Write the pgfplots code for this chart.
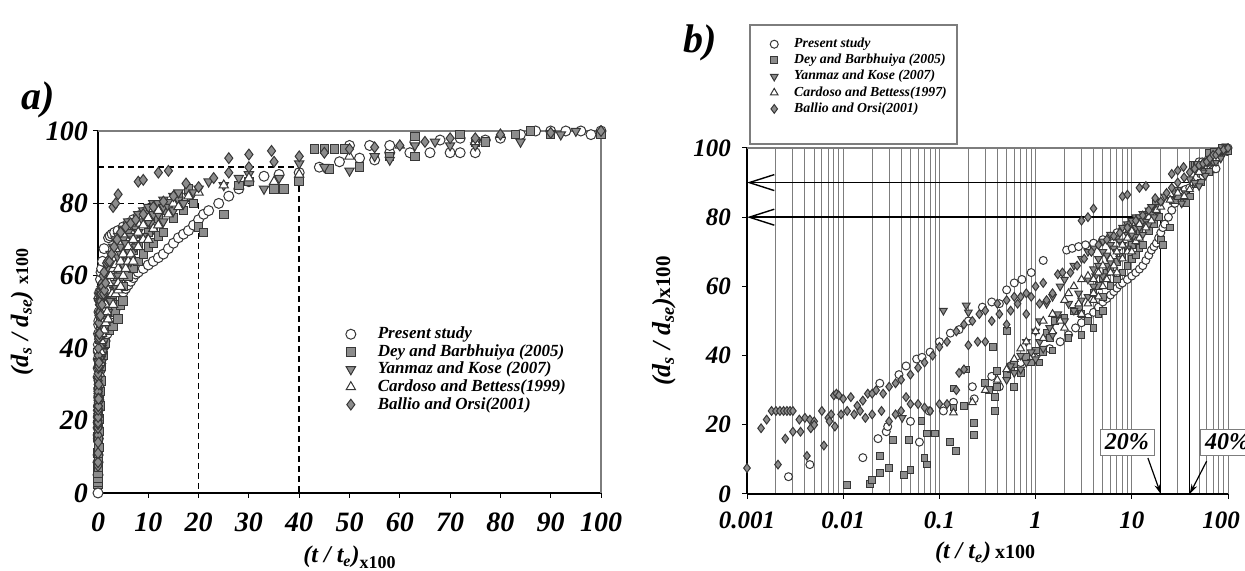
\documentclass[border=0pt]{standalone}
\usepackage{pgfplots}
\pgfplotsset{compat=1.18}
\usepackage{pgfplotstable}
\usepackage{fontspec}
\setmainfont{Liberation Serif}
\usetikzlibrary{arrows.meta}

\definecolor{mk}{RGB}{140,140,140}
\definecolor{edge}{RGB}{55,55,55}
\definecolor{frame}{RGB}{125,125,125}

% x = (t/te)x100, y = (ds/dse)x100
\pgfplotstableread{
x y
0.0027 5
0.0045 8.5
0.016 10.5
0.023 16
0.028 18
0.029 19.5
0.05 21
0.062 15
0.078 24
0.11 24
0.14 26.5
0.22 31
0.23 27.5
0.35 34
0.42 31
0.024 32
0.038 34.5
0.045 37
0.058 39
0.066 39.5
0.08 41
0.1 44
0.13 46.5
0.16 47.5
0.2 50
0.28 54
0.35 55.5
0.42 55
0.5 59
0.6 61
0.72 62
0.9 64
1.2 67.5
2.1 70.5
2.4 71
2.8 71.5
3.3 72
4 72.5
5 73.5
6 74.5
7 75.5
8 76.5
9 77.5
10 78.5
0.55 37
0.7 38
0.9 40
1.1 41
1.4 42
1.8 44
2.2 46
2.6 48
3 49.5
3.5 51
4 52.5
4.5 54
5 55.5
5.5 56.5
6 57.5
6.5 58.5
7 59.5
7.5 60.5
8 61
9 62
10 63
11 64
12 65
13 66
14 67.5
15 69
16 70.5
17 71.5
18 72.5
19 74
20 75.5
21 77
22 78
24 80
26 82
28 84
30 86
33 87.5
36 88
40 88.5
44 90
48 91.5
52 92.5
55 92
58 94
62 94
66 94
70 94
72 94
75 94
50 96
54 96
58 96
63 97
68 97.5
72 98
77 97.5
80 98
84 99
87 100
90 100
93 100
96 100
98 99
100 100
}\present

\pgfplotstableread{
x y
0.011 2.5
0.019 3
0.02 4
0.024 11
0.024 6
0.03 7.5
0.033 15.5
0.043 5.5
0.048 15.5
0.05 7
0.065 21
0.07 10.5
0.075 8.5
0.075 17.5
0.09 17.5
0.13 15
0.15 12.5
0.14 30.5
0.14 25
0.18 25.5
0.19 36
0.23 20.5
0.23 17
0.3 32
0.33 30
0.38 28
0.38 24
0.4 31
0.4 35.5
0.36 42.5
0.5 47
0.5 34.5
0.55 36
0.6 31
0.6 37.5
0.7 35
0.8 39.5
0.9 38
1 41.5
1.1 38
1.2 41
1.3 46.5
1.4 45
1.5 41.5
1.6 50
1.8 50.5
2 51
2.2 45
2.5 53
2.8 54
3 52
3.5 50
4 58
4.5 60
5 62.5
5 57
5.5 64
6 65
7 67
8 68.5
9 70.5
10 72
11 74
12 76
13 78
14 80
16 82
18 84
3 46
4 48
4.5 52
5 53
6 60
7 62
8 64
9 66
10 68
11 69
12 71
13 72
15 76
17 78
19 80
20 73.5
21 72
25 77
28 85
30 86
35 84
37 84
40 86
43 95
45 95
47 95
49 95
46 89.5
52 90
58 93
63 93
63 98.5
72 99
75 97
77 97
83 99
86 100
90 99
100 99
}\dey

\pgfplotstableread{
x y
0.041 22
0.11 53
0.19 54.5
0.2 52.5
0.5 33
0.55 37
0.6 35
0.7 40
0.7 36
0.8 38
0.8 44
0.9 41
1 39
1 47
1.1 50
1.1 44
1.2 42
1.3 55
1.4 48
1.5 46
1.5 57
1.7 52
1.8 60
2 50
2 62
2.2 55
2.5 53
2.5 66
2.8 58
3 56
3 68
3.5 70
3.5 62
3.5 57
4 60
4 71
4 65
4.2 63
4.5 66
4.5 68
5 63
5 73
5 70
5.5 69
5.5 66
6 67
6 75
6 72
6.5 71
6.5 64
7 70
7 74
7.5 73
7.5 68
8 72
8 77
9 75
9 78
9 71
10 75
10 79
11 77
11 80
11 73
12 77
12 80
13 79
13 81
13 75
14 79
15 82
15 78
16 81
16 83
17 80
18 82
19 83
20 84
22 86
25 85
28 87
30 88
33 84
36 87
40 91
45 90
50 89
55 93
58 92
63 96
67 97
70 96
75 96
84 97
92 99
95 100
}\yanmaz

\pgfplotstableread{
x y
0.14 23.5
0.22 26.5
0.3 30
0.4 33
0.5 36
0.6 39
0.7 42
0.8 44
1 47
1.2 50
1.2 45
1.5 52
1.5 47
1.8 50
2 56
2 48
2.2 58
2.5 60
2.8 55
3 62
3 52
3.5 63
3.5 55
4 58
4 56
4 62
4.5 64
4.5 57
5 60
5 66
5.5 62
6 64
6 68
6.5 66
7 70
7 64
8 68
8 72
9 74
9 70
10 70
10 76
11 73
12 78
12 74
14 77
15 80
16 79
18 82
20 83
25 85
30 87
35 86
40 88
50 93
60 96
75 97
80 99
}\cardoso

\pgfplotstableread{
x y
0.001 7.5
0.0014 19
0.0016 21.5
0.0018 24
0.002 24
0.0022 24
0.0024 24
0.0026 24
0.0028 24
0.003 24
0.0035 21.5
0.004 22
0.0045 21.5
0.005 21
0.006 24
0.007 22
0.0075 23
0.008 28.5
0.0085 29
0.009 28.5
0.01 27.5
0.012 28
0.014 25.5
0.016 27
0.018 29
0.02 29
0.022 30
0.026 29
0.03 31
0.035 32
0.04 33
0.05 34.5
0.06 36.5
0.07 38
0.085 40
0.1 42.5
0.12 44
0.15 47
0.18 49
0.22 50
0.26 52
0.3 53
0.4 55
0.5 56
0.6 57
0.7 57
0.8 58
1 60
1.2 61
0.0021 8.5
0.0025 16
0.003 18
0.0036 18
0.0042 11
0.0046 19
0.005 20
0.0063 14
0.0072 21
0.0082 19.5
0.0095 23
0.011 24
0.013 23
0.015 24
0.017 22
0.02 23
0.025 24
0.03 21
0.035 23
0.04 24
0.045 28
0.05 26
0.06 26
0.07 25
0.08 24
0.1 26
0.12 26
0.15 30
0.16 35
0.18 36
0.2 43
0.25 44
0.3 44
0.35 50
0.42 52
0.5 49
0.55 53
0.65 55
0.8 52
0.9 57
1.1 55
1.3 56
1.5 58
1.7 63.5
1.9 64
2.3 64
2.7 66
3.2 68
3.8 70
4.5 72
5.5 73.5
6.5 74.5
7.5 75.5
9 77
11 79
13 80.5
15 82
17.5 85.5
20 84.5
23 87
26 88.5
30 90
35 91.5
40 93
45 94
50 95
55 95.5
60 96
65 97
70 98
75 98
80 99
90 99.5
100 100
3 79
3.5 80
4 82.5
8 86
9 86.5
12 88.5
14 89
26 92.5
30 93.5
34.5 94.5
}\ballio

\pgfplotsset{
  pres/.style={only marks, mark=*, mark size=#1, mark options={fill=white, draw=edge, line width=0.5pt}},
  dey/.style={only marks, mark=square*, mark size=#1, mark options={scale=0.85, fill=mk, draw=edge, line width=0.5pt}},
  yan/.style={only marks, mark=triangle*, mark size=#1, mark options={rotate=180, fill=mk, draw=edge, line width=0.5pt}},
  car/.style={only marks, mark=triangle*, mark size=#1, mark options={fill=white, draw=edge, line width=0.5pt}},
  bal/.style={only marks, mark=diamond*, mark size=#1, mark options={fill=mk, draw=edge, line width=0.5pt}},
}

\begin{document}
\begin{tikzpicture}
\path[use as bounding box] (0,0) rectangle (622.5pt,285.5pt);

\node[font=\fontsize{20}{20}\selectfont\bfseries\itshape] at (19pt,235.5pt) {a)};
\node[font=\fontsize{20}{20}\selectfont\bfseries\itshape] at (350pt,264pt) {b)};

% ---------------- panel a ----------------
\begin{axis}[
    at={(49pt,39pt)}, anchor=south west,
    scale only axis, width=251.5pt, height=181pt,
    xmin=0, xmax=100, ymin=0, ymax=100,
    xtick={0,10,...,100}, ytick={0,20,...,100},
    axis lines*=left, axis line style={-, black, line width=0.6pt},
    tick align=outside, major tick length=2.5pt,
    tick style={black, line width=0.5pt},
    /pgf/number format/assume math mode=true,
    tick label style={font=\fontsize{14}{14}\selectfont\bfseries\itshape},
    xticklabel style={yshift=-4pt},
    yticklabel style={xshift=1pt},
    clip=false,
    xlabel={(\textit{t} / \textit{t}\textsubscript{\textit{e}})\raisebox{-0.5ex}{\fontsize{9}{9}\selectfont\upshape x100}},
    xlabel style={at={(axis description cs:0.5,-0.178)}, anchor=center, font=\fontsize{12}{12}\selectfont\bfseries\itshape},
    ylabel={(\textit{d}\textsubscript{\textit{s}} / \textit{d}\textsubscript{\textit{se}}) {\fontsize{9}{9}\selectfont\upshape x100}},
    ylabel style={at={(axis description cs:-0.151,0.5)}, anchor=center, font=\fontsize{12.5}{12.5}\selectfont\bfseries\itshape},
    legend cell align=left,
    legend style={at={(axis description cs:0.48,0.475)}, anchor=north west, draw=none, fill=none,
      font=\fontsize{8.5}{9}\selectfont\bfseries\itshape,
      nodes={inner ysep=0.7pt},
      /tikz/every odd column/.append style={column sep=9pt}},
  ]
  \draw[frame, line width=0.6pt] (rel axis cs:0,1) -- (rel axis cs:1,1) -- (rel axis cs:1,0);
  \draw[black, line width=0.8pt, dash pattern=on 3pt off 2pt] (axis cs:0,90) -- (axis cs:40,90) -- (axis cs:40,0);
  \draw[black, line width=0.8pt, dash pattern=on 3pt off 2pt] (axis cs:0,80) -- (axis cs:20,80) -- (axis cs:20,0);
  \addplot[pres=2.5pt] table {\present};
  \addlegendentry{Present study}
  \addplot[dey=2.5pt] table {\dey};
  \addlegendentry{Dey and Barbhuiya (2005)}
  \addplot[yan=2.7pt] table {\yanmaz};
  \addlegendentry{Yanmaz and Kose (2007)}
  \addplot[car=2.7pt] table {\cardoso};
  \addlegendentry{Cardoso and Bettess(1999)}
  \addplot[bal=2.7pt] table {\ballio};
  \addlegendentry{Ballio and Orsi(2001)}
  \addplot[pres=2.5pt, forget plot] coordinates {(0,0)};
\end{axis}

% ---------------- panel b ----------------
\begin{axis}[
    at={(373.5pt,38.5pt)}, anchor=south west,
    scale only axis, width=240.5pt, height=173pt,
    xmode=log, xmin=0.001, xmax=100, ymin=0, ymax=100,
    xtick={0.001,0.01,0.1,1,10,100},
    xticklabels={0.001,0.01,0.1,1,10,{100\kern7pt}},
    minor xtick={0.002,0.003,0.004,0.005,0.006,0.007,0.008,0.009,
                 0.02,0.03,0.04,0.05,0.06,0.07,0.08,0.09,
                 0.2,0.3,0.4,0.5,0.6,0.7,0.8,0.9,
                 2,3,4,5,6,7,8,9,
                 20,30,40,50,60,70,80,90},
    ytick={0,20,...,100},
    xmajorgrids, xminorgrids,
    major grid style={frame, line width=0.5pt},
    minor grid style={frame, line width=0.5pt},
    axis lines*=left, axis line style={-, black, line width=0.6pt},
    tick align=outside, major tick length=2.5pt, minor tick length=0pt,
    tick style={black, line width=0.5pt},
    /pgf/number format/assume math mode=true,
    tick label style={font=\fontsize{12.5}{12.5}\selectfont\bfseries\itshape},
    xticklabel style={yshift=-3pt},
    yticklabel style={xshift=-2pt},
    clip=false,
    xlabel={(\textit{t} / \textit{t}\textsubscript{\textit{e}})\,{\fontsize{10}{10}\selectfont\upshape x100}},
    xlabel style={at={(axis description cs:0.495,-0.17)}, anchor=center, font=\fontsize{12}{12}\selectfont\bfseries\itshape},
    ylabel={(\textit{d}\textsubscript{\textit{s}} / \textit{d}\textsubscript{\textit{se}}){\fontsize{10.5}{10.5}\selectfont\upshape x100}},
    ylabel style={at={(axis description cs:-0.1726,0.5)}, anchor=center, font=\fontsize{13}{13}\selectfont\bfseries\itshape},
    legend cell align=left,
    legend style={at={(axis description cs:0.035,1.336)}, anchor=north west, draw=none, fill=none,
      font=\fontsize{6.9}{7}\selectfont\bfseries\itshape,
      nodes={inner ysep=0.9pt},
      /tikz/every odd column/.append style={column sep=6pt}},
  ]
  \draw[frame, line width=0.6pt] (axis cs:0.001,100) -- (axis cs:100,100);
  \draw[line width=0.7pt, {Straight Barb[length=12.5pt,width=8pt]}-] (axis cs:0.001,90) -- (axis cs:40,90) -- (axis cs:40,0);
  \draw[line width=0.7pt, {Straight Barb[length=12.5pt,width=8pt]}-] (axis cs:0.001,80) -- (axis cs:20,80) -- (axis cs:20,0);
  \addplot[pres=2pt] table {\present};
  \addlegendentry{Present study}
  \addplot[dey=2pt] table {\dey};
  \addlegendentry{Dey and Barbhuiya (2005)}
  \addplot[yan=2.2pt] table {\yanmaz};
  \addlegendentry{Yanmaz and Kose (2007)}
  \addplot[car=2.2pt] table {\cardoso};
  \addlegendentry{Cardoso and Bettess(1997)}
  \addplot[bal=2.2pt] table {\ballio};
  \addlegendentry{Ballio and Orsi(2001)}
  \draw[-{Stealth[length=5pt,width=3pt]}, line width=0.6pt] (axis cs:14.7,10.4) -- (axis cs:20,0);
  \draw[-{Stealth[length=5pt,width=3pt]}, line width=0.6pt] (axis cs:60,9.5) -- (axis cs:40,0);
  \node[draw=frame, fill=white, inner sep=2.5pt, font=\fontsize{12}{12}\selectfont\bfseries\itshape] at (axis cs:8.9,15) {20\%};
  \node[draw=frame, fill=white, inner sep=2.5pt, font=\fontsize{12}{12}\selectfont\bfseries\itshape] at (axis cs:98,15) {40\%};
\end{axis}

\draw[frame, line width=0.6pt] (375pt,273pt) rectangle (478.5pt,213.5pt);
\end{tikzpicture}
\end{document}
